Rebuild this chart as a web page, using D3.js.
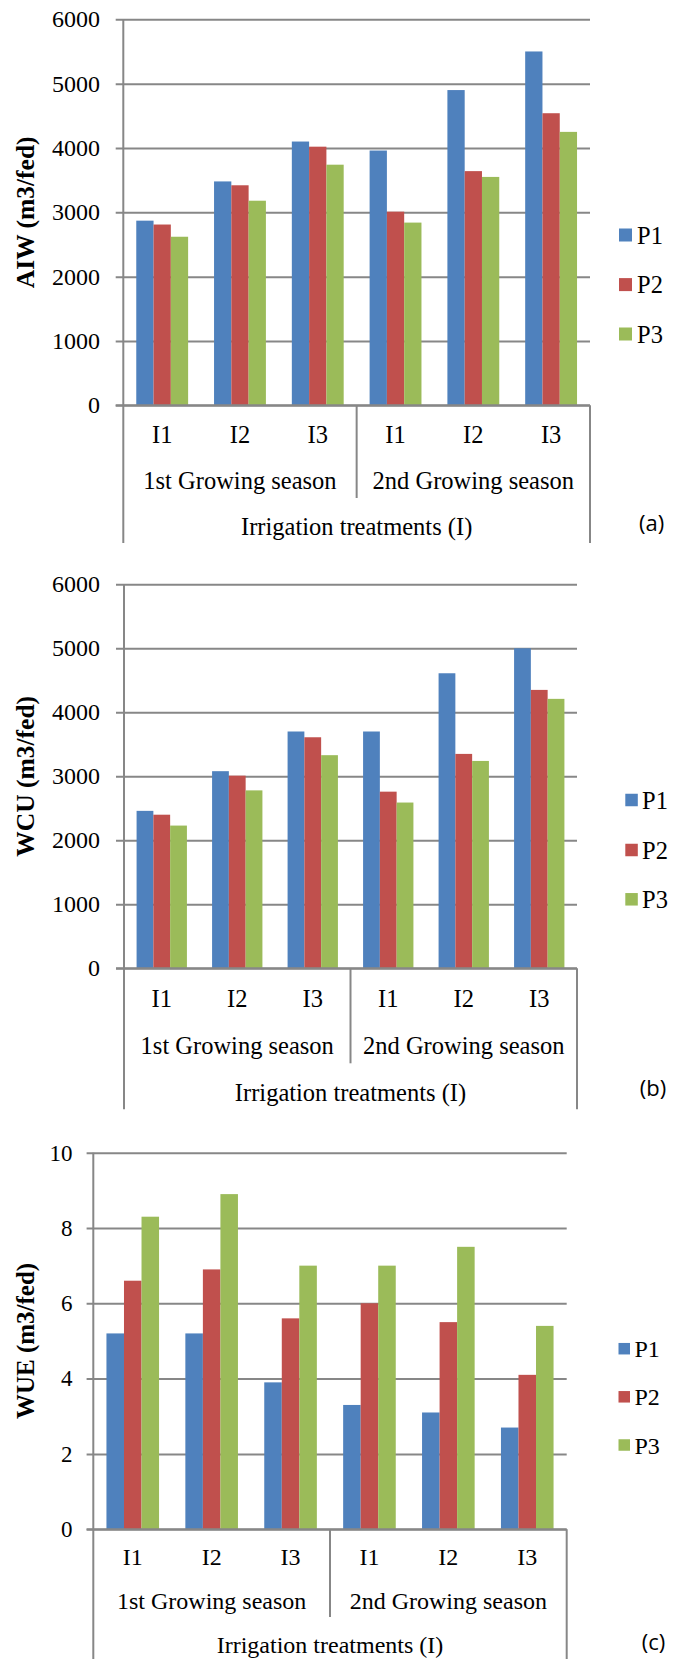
<!DOCTYPE html>
<html>
<head>
<meta charset="utf-8">
<script src="https://cdn.jsdelivr.net/npm/d3@7"></script>
<style>
  html, body { margin: 0; padding: 0; background: #fff; }
  svg { display: block; }
</style>
</head>
<body>
<div id="chart"></div>
<script>
// Category levels of the x axis
const seasons = ["1st Growing season", "2nd Growing season"];
const treatments = ["I1", "I2", "I3"];
const axisTitle = "Irrigation treatments (I)";
const seriesNames = ["P1", "P2", "P3"];
const seriesColors = ["#4F81BD", "#C0504D", "#9BBB59"];

// Applied irrigation water (m3/fed), one value per season x treatment
const aiwP1 = [2870, 3480, 4100, 3960, 4900, 5500];
const aiwP2 = [2810, 3420, 4020, 3010, 3640, 4540];
const aiwP3 = [2620, 3180, 3740, 2840, 3550, 4250];
const aiwTicks = [0, 1000, 2000, 3000, 4000, 5000, 6000];

// Water consumptive use (m3/fed)
const wcuP1 = [2460, 3080, 3700, 3700, 4610, 5000];
const wcuP2 = [2400, 3010, 3610, 2760, 3350, 4350];
const wcuP3 = [2230, 2780, 3330, 2590, 3240, 4210];
const wcuTicks = [0, 1000, 2000, 3000, 4000, 5000, 6000];

// Water use efficiency
const wueP1 = [5.2, 5.2, 3.9, 3.3, 3.1, 2.7];
const wueP2 = [6.6, 6.9, 5.6, 6.0, 5.5, 4.1];
const wueP3 = [8.3, 8.9, 7.0, 7.0, 7.5, 5.4];
const wueTicks = [0, 2, 4, 6, 8, 10];

const W = 682, H = 1659;
const SERIF = "'Liberation Serif', 'Times New Roman', serif";
const SANS = "'Open Sans', 'Liberation Sans', sans-serif";
const LINE = "#878787";

const svg = d3.select("#chart").append("svg")
  .attr("width", W).attr("height", H)
  .attr("viewBox", `0 0 ${W} ${H}`);

const panels = [
  {
    label: "(a)", yTitle: "AIW (m3/fed)", ticks: aiwTicks, series: [aiwP1, aiwP2, aiwP3],
    top: 19.3, bottom: 405.3, left: 123.3, right: 590, tickLen: 7.6, tickPad: 15.7,
    font: 24.5, tickFont: 24,
    offI: 37.7, offSeason: 83.7, offTitle: 129.7, offSep: 92.7, offOuter: 137.7,
    legX: 619, legSize: 13, legY: [235, 284.6, 334], legTextX: 637,
    labelX: 639, labelY: 531
  },
  {
    label: "(b)", yTitle: "WCU (m3/fed)", ticks: wcuTicks, series: [wcuP1, wcuP2, wcuP3],
    top: 584.3, bottom: 968.3, left: 124, right: 577, tickLen: 8, tickPad: 16,
    font: 24.5, tickFont: 24,
    offI: 39, offSeason: 86, offTitle: 133, offSep: 95, offOuter: 141,
    legX: 625.3, legSize: 12.5, legY: [800, 850, 899.3], legTextX: 642,
    labelX: 639.7, labelY: 1096
  },
  {
    label: "(c)", yTitle: "WUE (m3/fed)", ticks: wueTicks, series: [wueP1, wueP2, wueP3],
    top: 1152.7, bottom: 1529.2, left: 93.3, right: 566.7, tickLen: 6.7, tickPad: 14,
    font: 24, tickFont: 23,
    offI: 35.8, offSeason: 80.1, offTitle: 123.5, offSep: 87.8, offOuter: 140,
    legX: 618.5, legSize: 11.5, legY: [1348.7, 1396.8, 1445], legTextX: 634.5,
    labelX: 641.7, labelY: 1650
  }
];

const categories = [];
seasons.forEach(s => treatments.forEach(t => categories.push(s + "|" + t)));

panels.forEach(p => {
  const g = svg.append("g");
  const plotW = p.right - p.left;

  const x = d3.scaleBand().domain(categories).range([p.left, p.right]).padding(0);
  const xs = d3.scaleBand().domain(seriesNames).range([0, x.bandwidth()])
    .paddingInner(0).paddingOuter(0.75);
  const y = d3.scaleLinear().domain([0, d3.max(p.ticks)]).range([p.bottom, p.top]);

  // Gridlines with ticks and labels
  const yAxis = d3.axisLeft(y).tickValues(p.ticks)
    .tickSize(-(plotW + p.tickLen)).tickPadding(p.tickPad)
    .tickFormat(d3.format("d"));
  const ya = g.append("g")
    .attr("transform", `translate(${p.left - p.tickLen},0)`)
    .call(yAxis);
  ya.attr("font-family", SERIF).attr("font-size", p.tickFont);
  ya.select(".domain").remove();
  ya.selectAll(".tick line").attr("stroke", LINE).attr("stroke-width", 2);
  ya.selectAll(".tick text")
    .attr("font-family", SERIF).attr("font-size", p.tickFont).attr("fill", "#000");

  // Bars
  p.series.forEach((vals, si) => {
    g.append("g").selectAll("rect")
      .data(vals)
      .join("rect")
      .attr("x", (d, i) => x(categories[i]) + xs(seriesNames[si]))
      .attr("width", xs.bandwidth())
      .attr("y", d => y(d))
      .attr("height", d => y(0) - y(d))
      .attr("fill", seriesColors[si]);
  });

  // Axis lines
  const lines = g.append("g").attr("stroke", LINE).attr("stroke-width", 2).attr("fill", "none");
  lines.append("line").attr("x1", p.left - p.tickLen).attr("x2", p.right)
    .attr("y1", y(0)).attr("y2", y(0));
  lines.append("line").attr("x1", p.left).attr("x2", p.left)
    .attr("y1", y(d3.max(p.ticks))).attr("y2", y(0) + p.offOuter);
  lines.append("line").attr("x1", p.right).attr("x2", p.right)
    .attr("y1", y(0)).attr("y2", y(0) + p.offOuter);
  const sepX = x(seasons[1] + "|" + treatments[0]);
  lines.append("line").attr("x1", sepX).attr("x2", sepX)
    .attr("y1", y(0)).attr("y2", y(0) + p.offSep);

  // Treatment labels
  g.append("g").selectAll("text")
    .data(categories)
    .join("text")
    .attr("x", d => x(d) + x.bandwidth() / 2)
    .attr("y", y(0) + p.offI)
    .attr("text-anchor", "middle")
    .attr("font-family", SERIF).attr("font-size", p.font).attr("fill", "#000")
    .text(d => d.split("|")[1]);

  // Season labels
  g.append("g").selectAll("text")
    .data(seasons)
    .join("text")
    .attr("x", s => {
      const first = x(s + "|" + treatments[0]);
      const last = x(s + "|" + treatments[treatments.length - 1]) + x.bandwidth();
      return (first + last) / 2;
    })
    .attr("y", y(0) + p.offSeason)
    .attr("text-anchor", "middle")
    .attr("font-family", SERIF).attr("font-size", p.font).attr("fill", "#000")
    .text(s => s);

  // Axis title
  g.append("text")
    .attr("x", (p.left + p.right) / 2)
    .attr("y", y(0) + p.offTitle)
    .attr("text-anchor", "middle")
    .attr("font-family", SERIF).attr("font-size", p.font).attr("fill", "#000")
    .text(axisTitle);

  // Y axis title
  g.append("text")
    .attr("transform", `translate(${26 + p.font * 0.33},${(p.top + p.bottom) / 2}) rotate(-90)`)
    .attr("text-anchor", "middle")
    .attr("font-family", SERIF).attr("font-size", p.font + 1)
    .attr("font-weight", "bold").attr("fill", "#000")
    .text(p.yTitle);

  // Legend
  const leg = g.append("g").selectAll("g")
    .data(seriesNames)
    .join("g");
  leg.append("rect")
    .attr("x", p.legX)
    .attr("y", (d, i) => p.legY[i] - p.legSize / 2)
    .attr("width", p.legSize).attr("height", p.legSize)
    .attr("fill", (d, i) => seriesColors[i]);
  leg.append("text")
    .attr("x", p.legTextX)
    .attr("y", (d, i) => p.legY[i] + 8.5)
    .attr("font-family", SERIF).attr("font-size", p.font).attr("fill", "#000")
    .text(d => d);

  // Panel label
  g.append("text")
    .attr("x", p.labelX).attr("y", p.labelY)
    .attr("font-family", SANS).attr("font-size", 22).attr("fill", "#000")
    .text(p.label);
});
</script>
</body>
</html>
